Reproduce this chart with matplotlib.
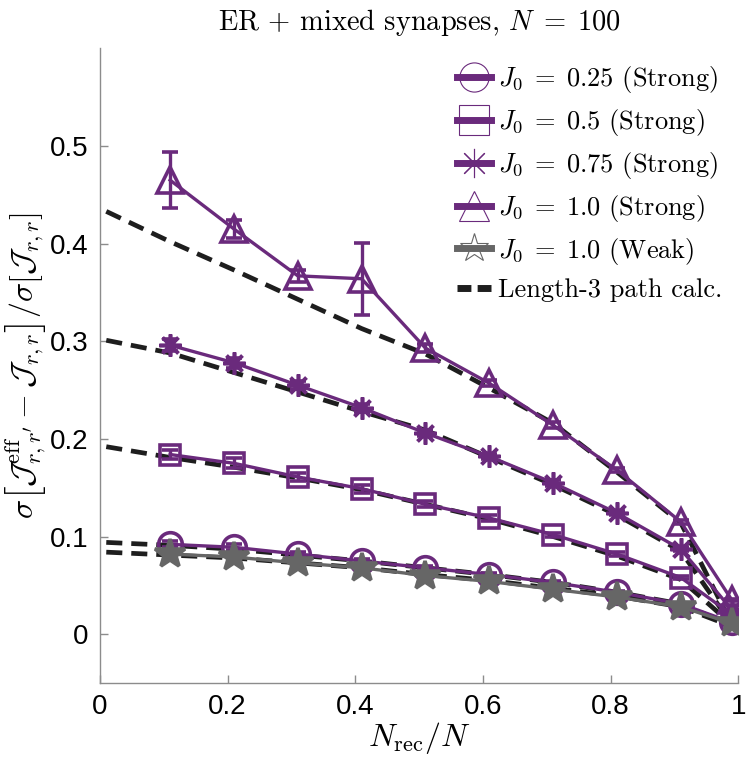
import numpy as np
import matplotlib
matplotlib.use('Agg')
import matplotlib.pyplot as plt
from matplotlib.lines import Line2D

plt.rcParams['mathtext.fontset'] = 'cm'
plt.rcParams['axes.unicode_minus'] = False

''' Data read off the reference '''
x = [0.11, 0.21, 0.31, 0.41, 0.51, 0.61, 0.71, 0.81, 0.91, 0.99]
x_th = [0.01, 0.11, 0.21, 0.31, 0.41, 0.51, 0.61, 0.71, 0.81, 0.91, 0.99]

j025_strong = [0.092, 0.089, 0.082, 0.075, 0.068, 0.061, 0.053, 0.043, 0.031, 0.012]
j05_strong = [0.184, 0.175, 0.161, 0.149, 0.133, 0.119, 0.102, 0.082, 0.058, 0.020]
j075_strong = [0.296, 0.278, 0.255, 0.232, 0.206, 0.182, 0.155, 0.124, 0.087, 0.025]
j10_strong = [0.465, 0.415, 0.367, 0.364, 0.293, 0.257, 0.214, 0.168, 0.115, 0.035]
j10_weak = [0.082, 0.079, 0.073, 0.068, 0.060, 0.054, 0.046, 0.038, 0.028, 0.011]

err_025 = [0.003, 0.003, 0.002, 0.002, 0.002, 0.002, 0.001, 0.001, 0.001, 0.001]
err_05 = [0.005, 0.005, 0.004, 0.004, 0.003, 0.003, 0.002, 0.002, 0.002, 0.001]
err_075 = [0.006, 0.005, 0.004, 0.004, 0.003, 0.003, 0.003, 0.002, 0.002, 0.001]
err_10 = [0.029, 0.009, 0.006, 0.037, 0.004, 0.003, 0.003, 0.002, 0.002, 0.001]
err_weak = [0.002, 0.002, 0.002, 0.002, 0.001, 0.001, 0.001, 0.001, 0.001, 0.001]

# length-3 path calculation (dashed)
th_025 = [0.094, 0.091, 0.087, 0.081, 0.075, 0.068, 0.061, 0.053, 0.043, 0.031, 0.009]
th_05 = [0.192, 0.181, 0.171, 0.160, 0.148, 0.133, 0.118, 0.100, 0.080, 0.056, 0.010]
th_075 = [0.301, 0.288, 0.268, 0.248, 0.228, 0.209, 0.181, 0.153, 0.122, 0.085, 0.010]
th_10 = [0.433, 0.402, 0.373, 0.343, 0.313, 0.287, 0.252, 0.216, 0.166, 0.114, 0.010]
th_weak = [0.084, 0.081, 0.078, 0.073, 0.068, 0.061, 0.055, 0.047, 0.039, 0.028, 0.008]

labels = [r'$J_0\;=\;0.25$ (Strong)', r'$J_0\;=\;0.5$ (Strong)', r'$J_0\;=\;0.75$ (Strong)',
          r'$J_0\;=\;1.0$ (Strong)', r'$J_0\;=\;1.0$ (Weak)', 'Length-3 path calc.']

purple = '#6a2a7c'
gray = '#666666'
dark = '#1e1e1e'

fig = plt.figure(figsize=(7.51, 7.61), dpi=100)
ax = fig.add_axes([0.133, 0.1025, 0.850, 0.834])

# dashed theory lines first (underneath)
for th in [th_025, th_05, th_075, th_10, th_weak]:
    ax.plot(x_th, th, color=dark, lw=3.4, dashes=(3.4, 1.9), zorder=2)

series = [
    (j025_strong, err_025, 'o', 17, purple, 'none'),
    (j05_strong, err_05, 's', 15, purple, 'none'),
    (j075_strong, err_075, (8, 2, 0), 16, purple, purple),
    (j10_strong, err_10, '^', 19, purple, 'none'),
    (j10_weak, err_weak, '*', 22, gray, gray),
]
for y, e, m, ms, c, fc in series:
    ax.errorbar(x, y, yerr=e, color=c, lw=2.4, marker=m, ms=ms, mfc=fc, mec=c,
                mew=2.6, capsize=6, capthick=2.4, elinewidth=2.4, zorder=3)

ax.set_xlim(0, 1)
ax.set_ylim(-0.05, 0.6)
ax.set_xticks([0, 0.2, 0.4, 0.6, 0.8, 1])
ax.set_xticklabels(['0', '0.2', '0.4', '0.6', '0.8', '1'])
ax.set_yticks([0, 0.1, 0.2, 0.3, 0.4, 0.5])
ax.set_yticklabels(['0', '0.1', '0.2', '0.3', '0.4', '0.5'])
for s in ['top', 'right']:
    ax.spines[s].set_visible(False)
for s in ['left', 'bottom']:
    ax.spines[s].set_color('#8c8c8c')
    ax.spines[s].set_linewidth(1.0)
ax.tick_params(direction='in', length=6, width=1, color='#8c8c8c',
               labelsize=20, pad=8)
for lab in ax.get_xticklabels() + ax.get_yticklabels():
    lab.set_family('Liberation Sans')

ax.set_xlabel(r'$N_{\rm rec}/N$', fontsize=23, labelpad=0)
ax.set_ylabel(r"$\sigma\left[\mathcal{J}^{\rm eff}_{r,r'} - \mathcal{J}_{r,r}\right]/\sigma\left[\mathcal{J}_{r,r}\right]$",
              fontsize=23, labelpad=1)
ax.set_title(r'ER + mixed synapses, $N\;=\;100$', fontsize=20.5, family='cmr10', pad=13)

# legend handles: thick line, thin marker
markers = ['o', 's', (8, 2, 0), '^', '*']
handles = []
for i, m in enumerate(markers):
    c = gray if i == 4 else purple
    handles.append(Line2D([], [], color=c, lw=5, marker=m, ms=21, mfc='none',
                          mec=c, mew=0.8))
handles.append(Line2D([], [], color=dark, lw=5, dashes=(2.0, 0.9)))
leg = ax.legend(handles, labels, loc='upper right', frameon=False,
                prop={'family': 'cmr10', 'size': 19}, handlelength=1.3,
                handletextpad=0.25, labelspacing=0.45, borderaxespad=0.2,
                bbox_to_anchor=(1.0, 1.0))

fig.savefig('out.png', dpi=100)
